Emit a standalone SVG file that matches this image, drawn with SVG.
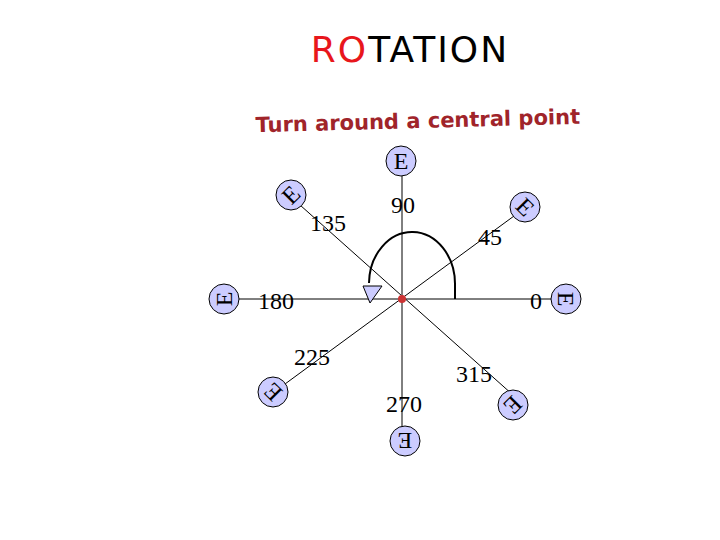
<svg xmlns="http://www.w3.org/2000/svg" width="720" height="540" viewBox="0 0 720 540">
<style>
.c{fill:#ccccff;stroke:#000;stroke-width:1}
.e{font-family:"Liberation Serif",serif;font-size:24px;text-anchor:middle;dominant-baseline:central}
.n{font-family:"Liberation Serif",serif;font-size:24px;text-anchor:middle}
.l{stroke:#000;stroke-width:1}
</style>
<rect width="720" height="540" fill="#fff"/>
<text x="410" y="62" font-family="DejaVu Sans,sans-serif" font-size="36" text-anchor="middle" letter-spacing="2"><tspan fill="#e8161c">RO</tspan><tspan fill="#000">TATION</tspan></text>
<text x="418" y="128" font-family="DejaVu Sans,sans-serif" font-weight="bold" font-size="21" fill="#a0242a" text-anchor="middle" transform="rotate(-1.5 418 128)">Turn around a central point</text>
<g id="connectors">
<line class="l" x1="402" y1="176" x2="402" y2="427"/>
<line class="l" x1="239" y1="299" x2="551" y2="299" stroke-width="1.5"/>
<line class="l" x1="300" y1="205" x2="513" y2="395" stroke-width="0.8"/>
<line class="l" x1="285" y1="384" x2="514" y2="216" stroke-width="0.8"/>
<path d="M455 299 V285 A43 52 0 0 0 369 283" fill="none" stroke="#000" stroke-width="2"/>
<polygon points="363,286 382,286 370,303" class="c"/>
</g>
<circle cx="402" cy="299" r="4" fill="#cc3333"/>
<g id="n90"><circle class="c" cx="401" cy="161" r="15"/><text class="e" x="401" y="161">E</text></g>
<g id="n45"><circle class="c" cx="525" cy="207" r="15"/><text class="e" x="525" y="207" transform="rotate(45 525 207)">E</text></g>
<g id="n0"><circle class="c" cx="566" cy="299" r="15"/><text class="e" x="566" y="299" transform="rotate(90 566 299)">E</text></g>
<g id="n315"><circle class="c" cx="513" cy="405" r="15"/><text class="e" x="513" y="405" transform="rotate(135 513 405)">E</text></g>
<g id="n270"><circle class="c" cx="405" cy="441" r="15"/><text class="e" x="405" y="441" transform="rotate(180 405 441)">E</text></g>
<g id="n225"><circle class="c" cx="273" cy="392" r="15"/><text class="e" x="273" y="392" transform="rotate(-135 273 392)">E</text></g>
<g id="n180"><circle class="c" cx="224" cy="299" r="15"/><text class="e" x="224" y="299" transform="rotate(-90 224 299)">E</text></g>
<g id="n135"><circle class="c" cx="291" cy="195" r="15"/><text class="e" x="291" y="195" transform="rotate(-45 291 195)">E</text></g>
<text class="n" x="403" y="213">90</text>
<text class="n" x="328" y="231">135</text>
<text class="n" x="490" y="245">45</text>
<text class="n" x="276" y="309">180</text>
<text class="n" x="536" y="309">0</text>
<text class="n" x="312" y="365">225</text>
<text class="n" x="474" y="382">315</text>
<text class="n" x="404" y="412">270</text>
</svg>
